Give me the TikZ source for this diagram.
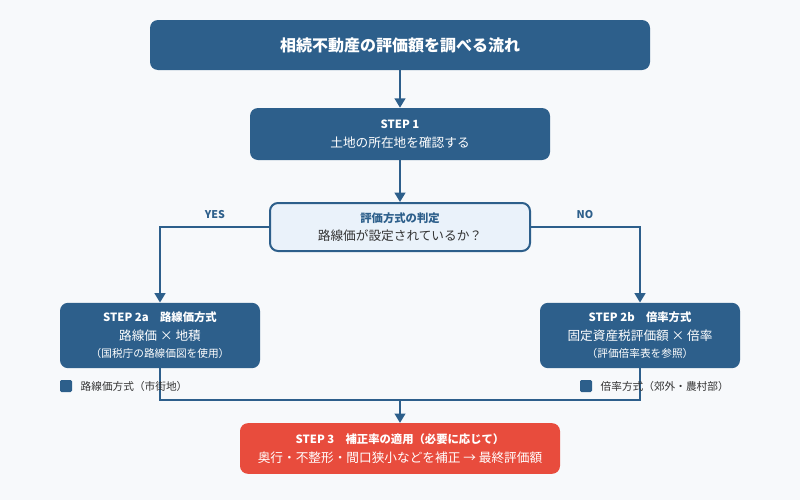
\documentclass[tikz,border=0pt]{standalone}
\usepackage{fontspec}
\setmainfont{Noto Sans CJK JP}
\usetikzlibrary{arrows.meta,positioning}
\definecolor{navy}{HTML}{2D5F8B}
\definecolor{pale}{HTML}{EAF2FA}
\definecolor{redbox}{HTML}{E84C3D}
\definecolor{bg}{HTML}{F7F9FB}
\definecolor{ink}{HTML}{333333}
\tikzset{
  box/.style={draw=none, fill=navy, rounded corners=6pt, text=white, align=center, inner sep=0pt},
  link/.style={navy, line width=1.5pt},
  arr/.style={link, -{Triangle[length=7pt,width=8pt]}},
  small/.style={font=\fontsize{8}{10}\selectfont},
}
\begin{document}
\begin{tikzpicture}[x=0.75pt,y=-0.75pt]
    \fill[bg] (0,0) rectangle (800,500);
    \useasboundingbox (0,0) rectangle (800,500);
    \node [box, minimum width=375pt, minimum height=37.5pt, font=\bfseries\fontsize{12}{14}\selectfont] (title) at (400,45) {相続不動産の評価額を調べる流れ};
    \node [box, minimum width=225pt, minimum height=39pt, font=\fontsize{9.5}{14}\selectfont] (s1) at (400,134) {{\bfseries\fontsize{8.5}{12}\selectfont STEP 1}\\土地の所在地を確認する};
    \node [box, fill=pale, draw=navy, line width=1.5pt, text=ink, minimum width=195pt, minimum height=36pt, font=\fontsize{9.5}{14}\selectfont] (judge) at (400,227) {{\bfseries\fontsize{8.5}{12}\selectfont\color{navy}評価方式の判定}\\路線価が設定されているか？};
    \node [box, minimum width=150pt, minimum height=49pt, font=\fontsize{9.5}{13}\selectfont] (s2a) at (160,335.5) {{\bfseries\fontsize{8.5}{12}\selectfont STEP 2a\quad 路線価方式}\\[1pt]路線価 × 地積\\{\fontsize{8}{10}\selectfont （国税庁の路線価図を使用）}};
    \node [box, minimum width=150pt, minimum height=49pt, font=\fontsize{9.5}{13}\selectfont] (s2b) at (640,335.5) {{\bfseries\fontsize{8.5}{12}\selectfont STEP 2b\quad 倍率方式}\\[1pt]固定資産税評価額 × 倍率\\{\fontsize{8}{10}\selectfont （評価倍率表を参照）}};
    \node [box, fill=redbox, minimum width=240pt, minimum height=38pt, font=\fontsize{9.5}{14}\selectfont] (s3) at (400,448.5) {{\bfseries\fontsize{8.5}{12}\selectfont STEP 3\quad 補正率の適用（必要に応じて）}\\奥行・不整形・間口狭小などを補正 → 最終評価額};
    \coordinate (join) at (400,400);
    % connectors
    \draw[arr] (title) -- (s1);
    \draw[arr] (s1) -- (judge);
    \draw[arr] (judge.west) -| (s2a.north);
    \draw[arr] (judge.east) -| (s2b.north);
    \draw[link] (s2a.south) |- (join) -| (s2b.south);
    \draw[arr] (join) -- (s3);
    % labels
    \node [small, font=\bfseries\fontsize{8}{10}\selectfont, text=navy] (yes) at (215,215) {YES};
    \node [small, font=\bfseries\fontsize{8}{10}\selectfont, text=navy] (no) at (585,215) {NO};
    % legend
    \fill[navy, rounded corners=1pt] (60,380) rectangle (72,392);
    \node [small, text=ink, anchor=west] (lega) at (76,386) {路線価方式（市街地）};
    \fill[navy, rounded corners=1pt] (580,380) rectangle (592,392);
    \node [small, text=ink, anchor=west] (legb) at (596,386) {倍率方式（郊外・農村部）};
\end{tikzpicture}
\end{document}
